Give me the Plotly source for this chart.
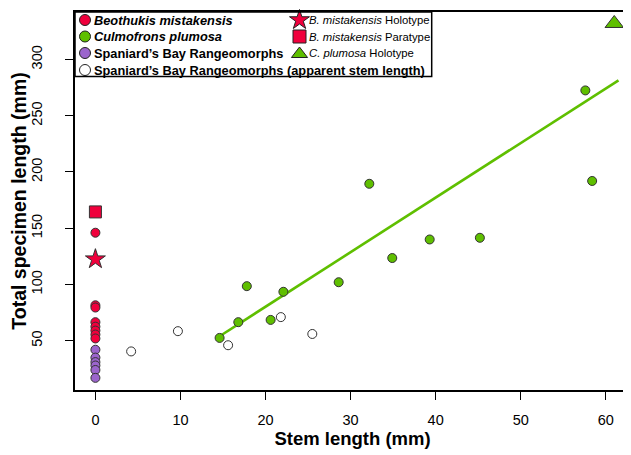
import plotly.graph_objects as go

# ---- data ----
beo_x = [0, 0, 0, 0, 0, 0, 0, 0]
beo_y = [146, 81.5, 79.5, 66.5, 62.5, 59, 55.5, 52]
cul_x = [14.6, 16.8, 17.8, 20.6, 22.1, 28.6, 32.2, 34.9, 39.3, 45.2, 57.6, 58.4]
cul_y = [52.5, 66.5, 98.5, 68.5, 93.5, 102, 189.5, 123.5, 140, 141.5, 272.5, 192]
sb_x = [0, 0, 0, 0, 0, 0]
sb_y = [42, 35, 31, 28, 24, 17]
sb_app_x = [4.2, 9.7, 15.6, 21.8, 25.5]
sb_app_y = [40.5, 58.5, 46, 71, 56]
holo_b = (0, 122.5)
para_b = (0, 164.5)
holo_c = (61, 332)
fit_x = [14.6, 61.5]
fit_y = [54.0, 281.5]

RED = "#F0003C"
GREEN = "#5FBF00"
PURPLE = "#9B65CC"
EDGE = "#333333"
FONT = "Liberation Sans"

fig = go.Figure()

fig.add_trace(go.Scatter(x=fit_x, y=fit_y, mode="lines", cliponaxis=False,
                         line=dict(color=GREEN, width=2.6), showlegend=False))

def pts(x, y, color, symbol="circle", size=9):
    fig.add_trace(go.Scatter(x=x, y=y, mode="markers", showlegend=False, cliponaxis=False,
                             marker=dict(color=color, symbol=symbol, size=size,
                                         line=dict(color=EDGE, width=1))))

pts(sb_app_x, sb_app_y, "white")
pts(cul_x, cul_y, GREEN)
pts(sb_x, sb_y, PURPLE)
pts(beo_x, beo_y, RED)
pts([holo_b[0]], [holo_b[1]], RED, "star", 15)
pts([para_b[0]], [para_b[1]], RED, "square", 12)
pts([holo_c[0]], [holo_c[1]], GREEN, "triangle-up", 16)

# ---- legend (pixel-coordinate overlay axes, page pixels) ----
leg_rows = [20, 36.5, 53, 70]
col1_x = 85
col2_x = 299.5

def lm(x, y, color, symbol, size):
    fig.add_trace(go.Scatter(x=[x], y=[y], mode="markers", showlegend=False,
                             xaxis="x2", yaxis="y2", cliponaxis=False,
                             marker=dict(color=color, symbol=symbol, size=size,
                                         line=dict(color="#222222", width=1))))

lm(col1_x, leg_rows[0], RED, "circle", 11)
lm(col1_x, leg_rows[1], GREEN, "circle", 11)
lm(col1_x, leg_rows[2], PURPLE, "circle", 11)
lm(col1_x, leg_rows[3], "white", "circle", 11)
lm(col2_x, leg_rows[0], RED, "star", 15)
lm(col2_x, leg_rows[1], RED, "square", 13)
lm(col2_x, leg_rows[2] + 1, GREEN, "triangle-up", 14)

col1_txt = ["<b><i>Beothukis mistakensis</i></b>",
            "<b><i>Culmofrons plumosa</i></b>",
            "<b>Spaniard’s Bay Rangeomorphs</b>",
            "<b>Spaniard’s Bay Rangeomorphs (apparent stem length)</b>"]
col2_txt = ["<i>B. mistakensis</i> Holotype",
            "<i>B. mistakensis</i> Paratype",
            "<i>C. plumosa</i> Holotype"]

annotations = []
for t, y in zip(col1_txt, leg_rows):
    annotations.append(dict(x=92, y=y, xref="x2", yref="y2", text=t,
                            showarrow=False, xanchor="left", yanchor="middle",
                            font=dict(family=FONT, size=12.8, color="black")))
for t, y in zip(col2_txt, leg_rows[:3]):
    annotations.append(dict(x=307, y=y, xref="x2", yref="y2", text=t,
                            showarrow=False, xanchor="left", yanchor="middle",
                            font=dict(family=FONT, size=11.3, color="black")))

fig.update_layout(
    width=623, height=447,
    margin=dict(l=67, r=1, t=4, b=65),
    paper_bgcolor="white", plot_bgcolor="white",
    showlegend=False,
    font=dict(family=FONT, color="black"),
    xaxis=dict(range=[-2.4, 62.85], tickvals=[0, 10, 20, 30, 40, 50, 60],
               automargin=False, ticklabelstandoff=8,
               showgrid=False, zeroline=False, showline=True, mirror=True,
               linecolor="black", linewidth=1.5, ticks="outside", ticklen=8,
               tickcolor="black", tickfont=dict(size=14.5, family=FONT),
               title=dict(text="<b>Stem length (mm)</b>", standoff=5,
                          font=dict(size=18.5, family=FONT))),
    yaxis=dict(range=[6.2, 342.2], tickvals=[50, 100, 150, 200, 250, 300],
               automargin=False, ticklabelstandoff=17,
               showgrid=False, zeroline=False, showline=True, mirror=True,
               linecolor="black", linewidth=1.5, ticks="outside", ticklen=8,
               tickcolor="black", tickangle=-90,
               tickfont=dict(size=14.5, family=FONT),
               title=dict(text="<b>Total specimen length (mm)</b>", standoff=1,
                          font=dict(size=19.5, family=FONT))),
    xaxis2=dict(range=[75, 630], overlaying="x", visible=False, fixedrange=True,
                automargin=False),
    yaxis2=dict(range=[390, 12], overlaying="y", visible=False, fixedrange=True,
                automargin=False),
    annotations=annotations,
    shapes=[dict(type="rect", xref="x2", yref="y2", x0=75, x1=431.7, y0=12, y1=76.5,
                 line=dict(color="black", width=1.5), fillcolor="rgba(0,0,0,0)",
                 layer="above")],
)

fig.write_html("out.html")
